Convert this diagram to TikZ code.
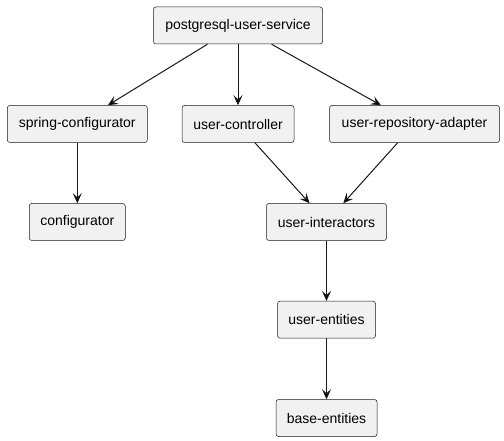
\documentclass[tikz,border=0pt]{standalone}
\usepackage{fontspec}
\setmainfont{Liberation Sans}
\usetikzlibrary{arrows.meta}
\definecolor{boxfill}{HTML}{F1F1F1}
\definecolor{boxline}{HTML}{181818}
\begin{document}
\begin{tikzpicture}[x=1pt, y=-1pt, module/.style={draw=boxline, fill=boxfill, rounded corners=2.5pt, line width=0.5pt, minimum height=37pt, inner xsep=4pt, font=\fontsize{14}{16}\selectfont}, dep/.style={-{Stealth[length=10pt,width=9pt,inset=4pt]}, draw=boxline, line width=1pt}]
\useasboundingbox (0,0) rectangle (504,441);
\node[module, minimum width=169pt] (service) at (238,25.5) {postgresql-user-service};
\node[module, minimum width=140pt] (spring) at (77.3,124) {spring-configurator};
\node[module, minimum width=112pt] (controller) at (238,124) {user-controller};
\node[module, minimum width=170pt] (repository) at (414.5,124) {user-repository-adapter};
\node[module, minimum width=96pt] (config) at (77.3,222) {configurator};
\node[module, minimum width=120pt] (interactors) at (326.5,222) {user-interactors};
\node[module, minimum width=98pt] (entities) at (326.5,319.7) {user-entities};
\node[module, minimum width=101pt] (base) at (326.5,418) {base-entities};
\path[dep]
(service) edge (spring)
(service) edge (controller)
(service) edge (repository)
(spring) edge (config)
(controller) edge (interactors)
(repository) edge (interactors)
(interactors) edge (entities)
(entities) edge (base);
\end{tikzpicture}
\end{document}
